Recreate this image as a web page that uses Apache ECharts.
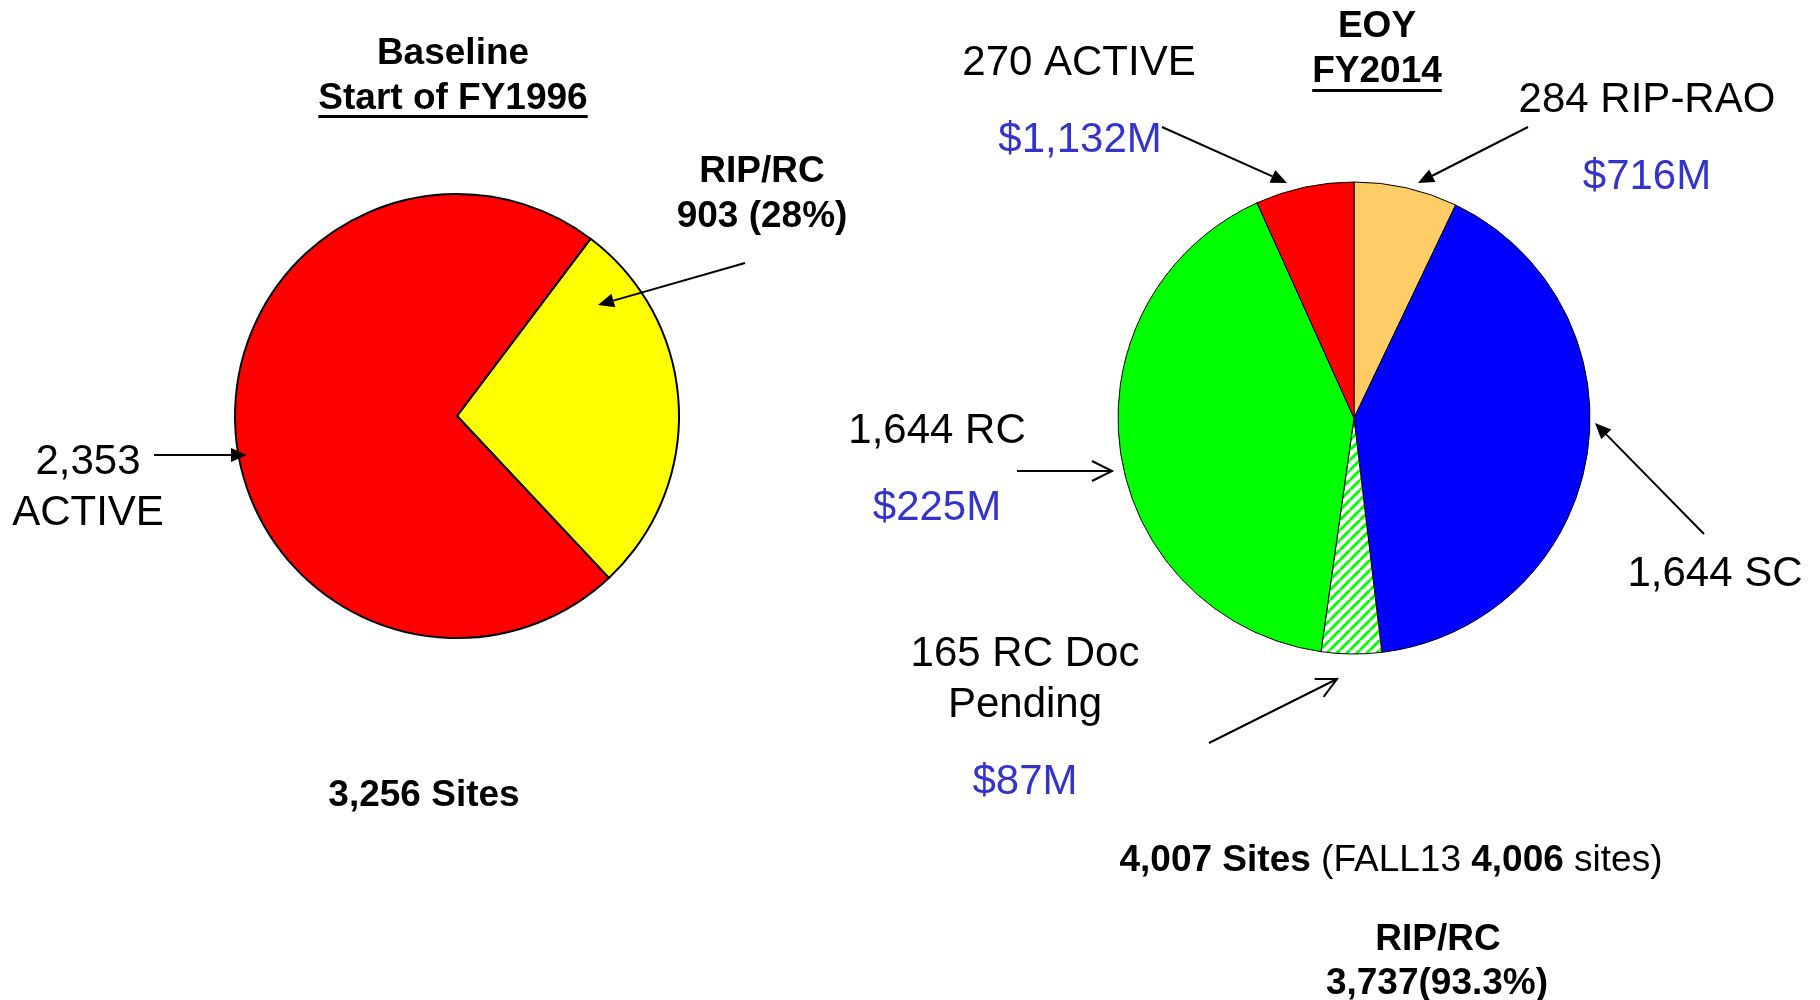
<!DOCTYPE html>
<html><head><meta charset="utf-8">
<script src="https://cdn.jsdelivr.net/npm/echarts@6/dist/echarts.min.js"></script>
<style>html,body{margin:0;padding:0;background:#fff}#chart{width:1820px;height:1000px}</style>
</head><body><div id="chart"></div>
<script>
// ---------- data ----------
const baselineCategories = ['RIP/RC', 'ACTIVE'];
const baselineSites = [903, 2353];
const eoyCategories = ['RIP-RAO', 'SC', 'RC Doc\nPending', 'RC', 'ACTIVE'];
const eoySites = [284, 1644, 165, 1644, 270];
const eoyCostM = [716, null, 87, 225, 1132];
const fall13Sites = 4006;
const titles = ['Baseline', 'Start of FY1996', 'EOY', 'FY2014'];

// ---------- helpers ----------
const FF = '"Liberation Sans", Arial, Helvetica, sans-serif';
const fmt = n => n.toLocaleString('en-US');
const sum = a => a.reduce((s, v) => s + v, 0);
const BLUE = '#3434CC';
const DY = 3.5;

const baseTotal = sum(baselineSites);
const eoyTotal = sum(eoySites);
const eoyActive = eoySites[eoyCategories.indexOf('ACTIVE')];
const ripRc = eoyTotal - eoyActive;

// hatched pattern for "RC Doc Pending"
const T = 10;
const pc = document.createElement('canvas');
pc.width = T; pc.height = T;
const pctx = pc.getContext('2d');
pctx.fillStyle = '#fff'; pctx.fillRect(0, 0, T, T);
pctx.strokeStyle = '#00FF00'; pctx.lineWidth = 2.9;
pctx.beginPath();
for (let o = -T; o <= 2 * T; o += T) { pctx.moveTo(o, T); pctx.lineTo(o + T, 0); }
pctx.stroke();

const baseColors = ['#FFFF00', '#FF0000'];
const eoyColors = ['#FFCC66', '#0000FF', { image: pc, repeat: 'repeat' }, '#00FF00', '#FF0000'];

const mctx = document.createElement('canvas').getContext('2d');
function textWidth(t, font) { mctx.font = font; return mctx.measureText(t).width; }

const graphics = [];
function txt(text, x, y, opt = {}) {
  const size = opt.size || 42;
  const font = (opt.bold ? 'bold ' : '') + size + 'px ' + FF;
  graphics.push({ type: 'text', x, y: y + DY, silent: true, z: 100,
    style: { text, font, fill: opt.color || '#000', align: 'center', verticalAlign: 'middle' } });
  if (opt.underline) {
    const w = textWidth(text, font);
    const uy = opt.underline + DY;
    graphics.push({ type: 'line', silent: true, z: 100,
      shape: { x1: x - w / 2, y1: uy, x2: x + w / 2, y2: uy },
      style: { stroke: '#000', lineWidth: 3 } });
  }
}
function arrow(x1, y1, x2, y2, filled) {
  const a = Math.atan2(y2 - y1, x2 - x1), c = Math.cos(a), s = Math.sin(a);
  const L = filled ? 16 : 20, H = filled ? 7 : 10;
  const bx = x2 - L * c, by = y2 - L * s;
  const p1 = [bx - H * s, by + H * c], p2 = [bx + H * s, by - H * c];
  graphics.push({ type: 'line', silent: true, z: 100,
    shape: { x1, y1, x2: filled ? bx : x2, y2: filled ? by : y2 },
    style: { stroke: '#000', lineWidth: 2 } });
  if (filled) {
    graphics.push({ type: 'polygon', silent: true, z: 100, shape: { points: [[x2, y2], p1, p2] }, style: { fill: '#000' } });
  } else {
    graphics.push({ type: 'polyline', silent: true, z: 100, shape: { points: [p1, [x2, y2], p2] }, style: { stroke: '#000', lineWidth: 2, fill: null } });
  }
}

// ---------- left pie annotations ----------
txt(titles[0], 453, 50, { bold: true, size: 37 });
txt(titles[1], 453, 95, { bold: true, size: 37, underline: 113 });
txt(baselineCategories[0], 762, 168, { bold: true, size: 37 });
txt(`${fmt(baselineSites[0])} (${Math.round(baselineSites[0] / baseTotal * 100)}%)`, 762, 213, { bold: true, size: 37 });
arrow(745, 263, 598, 305, true);
txt(fmt(baselineSites[1]), 88, 459);
txt(baselineCategories[1], 88, 510);
arrow(154, 455, 247, 455, true);
txt(`${fmt(baseTotal)} Sites`, 424, 792, { bold: true, size: 37 });

// ---------- right pie annotations ----------
txt(titles[2], 1377, 23, { bold: true, size: 37 });
txt(titles[3], 1377, 68, { bold: true, size: 37, underline: 87 });
// ACTIVE
txt(`${eoySites[4]} ${eoyCategories[4]}`, 1079, 60);
txt(`$${fmt(eoyCostM[4])}M`, 1080, 137, { color: BLUE });
arrow(1162, 127, 1287, 183, true);
// RIP-RAO
txt(`${eoySites[0]} ${eoyCategories[0]}`, 1647, 97);
txt(`$${fmt(eoyCostM[0])}M`, 1647, 174, { color: BLUE });
arrow(1528, 127, 1418, 183, true);
// RC
txt(`${fmt(eoySites[3])} ${eoyCategories[3]}`, 937, 428);
txt(`$${fmt(eoyCostM[3])}M`, 937, 505, { color: BLUE });
arrow(1017, 471, 1112, 471, false);
// SC
txt(`${fmt(eoySites[1])} ${eoyCategories[1]}`, 1715, 571);
arrow(1704, 534, 1595, 423, true);
// RC Doc Pending
const docLines = eoyCategories[2].split('\n');
txt(`${eoySites[2]} ${docLines[0]}`, 1025, 651);
txt(docLines[1], 1025, 702);
txt(`$${fmt(eoyCostM[2])}M`, 1025, 779, { color: BLUE });
arrow(1209, 743, 1337, 679, false);
// bottom summary
graphics.push({ type: 'text', x: 1391, y: 857 + DY, silent: true, z: 100,
  style: {
    text: `{b|${fmt(eoyTotal)} Sites}{n| (FALL13 }{b|${fmt(fall13Sites)}}{n| sites)}`,
    align: 'center', verticalAlign: 'middle', fill: '#000',
    rich: { b: { font: 'bold 37px ' + FF, fill: '#000' }, n: { font: '37px ' + FF, fill: '#000' } }
  } });
txt('RIP/RC', 1438, 936, { bold: true, size: 37 });
txt(`${fmt(ripRc)}(${(ripRc / eoyTotal * 100).toFixed(1)}%)`, 1437, 980, { bold: true, size: 37 });

// ---------- chart ----------
const chart = echarts.init(document.getElementById('chart'), null, { renderer: 'canvas' });
chart.setOption({
  animation: false,
  backgroundColor: '#fff',
  series: [
    {
      type: 'pie', silent: true, center: [457, 416], radius: 222, startAngle: 53, clockwise: true,
      label: { show: false }, labelLine: { show: false },
      itemStyle: { borderColor: '#000', borderWidth: 2 },
      data: baselineCategories.map((n, i) => ({ name: n, value: baselineSites[i], itemStyle: { color: baseColors[i] } }))
    },
    {
      type: 'pie', silent: true, center: [1354, 418], radius: 236, startAngle: 90, clockwise: true,
      label: { show: false }, labelLine: { show: false },
      itemStyle: { borderColor: '#000', borderWidth: 1 },
      data: eoyCategories.map((n, i) => ({ name: n, value: eoySites[i], itemStyle: { color: eoyColors[i] } }))
    }
  ],
  graphic: graphics
});
</script></body></html>
